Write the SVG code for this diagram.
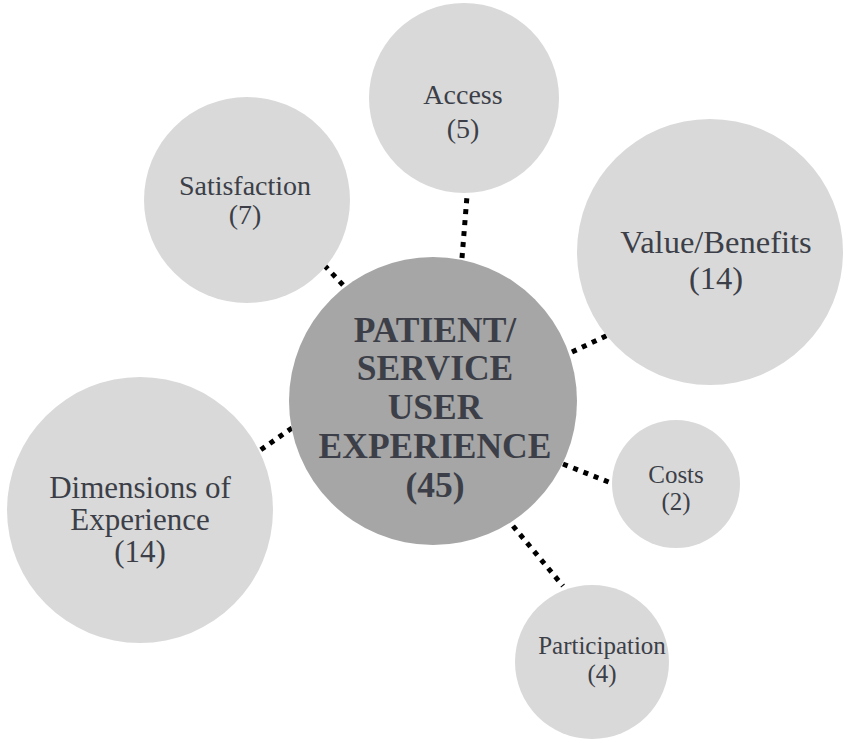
<svg xmlns="http://www.w3.org/2000/svg" width="851" height="752" viewBox="0 0 851 752">
<style>
.sat{fill:#d9d9d9}
.core{fill:#a6a6a6}
text{font-family:'Liberation Serif','Times New Roman',serif;fill:#3c3f48;text-anchor:middle}
.b{font-weight:bold}
.c{stroke:#000;stroke-width:5;stroke-dasharray:5 6;fill:none}
</style>
<rect width="851" height="752" fill="#fff"/>
<g id="connectors">
<line class="c" x1="462" y1="258" x2="467" y2="196"/>
<line class="c" x1="343" y1="285" x2="325" y2="266"/>
<line class="c" x1="572" y1="352" x2="608" y2="335"/>
<line class="c" x1="292" y1="428" x2="259" y2="451"/>
<line class="c" x1="563" y1="464" x2="611" y2="483"/>
<line class="c" x1="513" y1="526" x2="563" y2="586"/>
</g>
<g id="access">
<circle class="sat" cx="464" cy="98" r="95"/>
<text x="463" y="104" font-size="28">Access</text>
<text x="463" y="138" font-size="28">(5)</text>
</g>
<g id="satisfaction">
<circle class="sat" cx="247" cy="200" r="103"/>
<text x="245" y="195" font-size="28">Satisfaction</text>
<text x="245" y="224" font-size="28">(7)</text>
</g>
<g id="value">
<circle class="sat" cx="710" cy="252" r="133"/>
<text x="716" y="253" font-size="32.5">Value/Benefits</text>
<text x="716" y="289" font-size="32.5">(14)</text>
</g>
<g id="costs">
<circle class="sat" cx="676" cy="484" r="64"/>
<text x="676" y="483" font-size="25">Costs</text>
<text x="676" y="510" font-size="25">(2)</text>
</g>
<g id="participation">
<circle class="sat" cx="592" cy="662" r="77"/>
<text x="602" y="654" font-size="25">Participation</text>
<text x="602" y="682" font-size="25">(4)</text>
</g>
<g id="dimensions">
<circle class="sat" cx="140" cy="510" r="133"/>
<text x="140" y="498" font-size="31">Dimensions of</text>
<text x="140" y="530" font-size="31">Experience</text>
<text x="140" y="562" font-size="31">(14)</text>
</g>
<g id="core">
<circle class="core" cx="433" cy="401" r="144"/>
<text class="b" x="435" y="342" font-size="35.5">PATIENT/</text>
<text class="b" x="435" y="380" font-size="35.5">SERVICE</text>
<text class="b" x="435" y="419" font-size="35.5">USER</text>
<text class="b" x="435" y="458" font-size="35.5">EXPERIENCE</text>
<text class="b" x="435" y="497" font-size="35.5">(45)</text>
</g>
</svg>
